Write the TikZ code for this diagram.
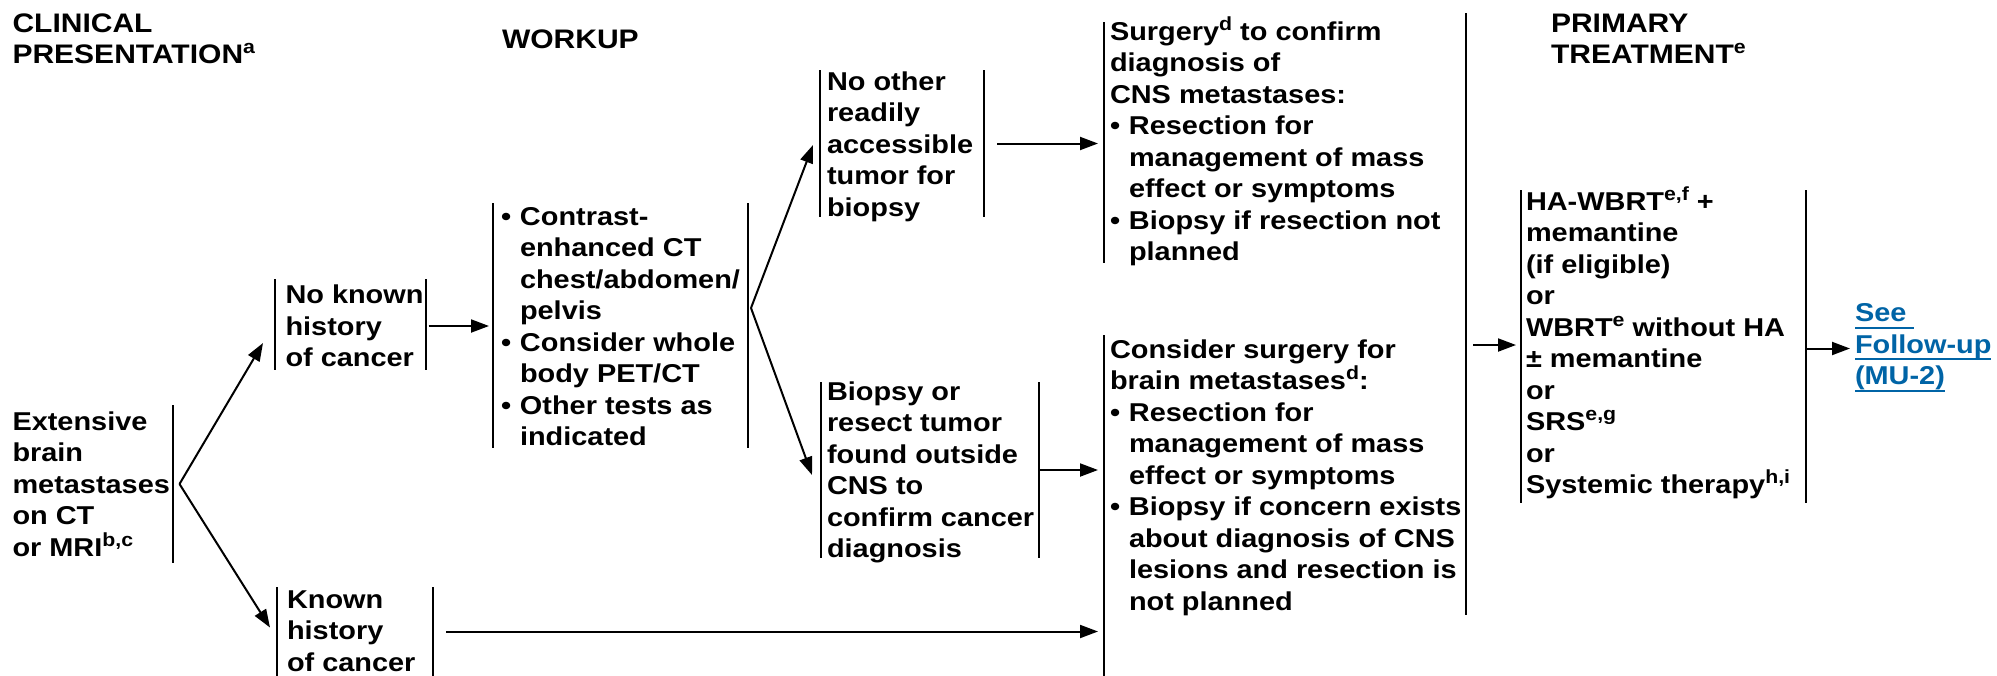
\documentclass[tikz,border=0pt]{standalone}
\usepackage{fontspec}
\setmainfont{Liberation Sans}[FakeStretch=1.12]
\usetikzlibrary{arrows.meta,calc,fit}

\definecolor{linkblue}{RGB}{0,100,166}
\newcommand\bodyfont{\fontsize{12.9pt}{15.75pt}\selectfont\bfseries}
\newcommand\headfont{\fontsize{13.4pt}{15.75pt}\selectfont\bfseries}
% superscript note letters
\newcommand\sups[1]{\raisebox{5pt}{\fontsize{9.5pt}{9.5pt}\selectfont #1}}
% fixed first-line height, so a node's top sits 13.5pt above its first baseline
\newcommand\st{\rule{0pt}{13.5pt}}
\newcommand\bul{\makebox[9.5pt][l]{\textbullet}}
\newcommand\ind{\hspace*{9.5pt}}
\newcommand\ulink[1]{\setbox0=\hbox{#1}\rlap{\rule[-3.5pt]{\wd0}{1pt}}\box0}

\tikzset{
  zone/.style={inner sep=0pt, outer sep=0pt},
  txt/.style={anchor=north west, inner sep=0pt, outer sep=0pt, align=left, font=\bodyfont},
  head/.style={txt, font=\headfont},
  bar/.style={line width=1pt},
  arr/.style={line width=1pt, -{Triangle[length=9pt,width=6.5pt]}},
}

\begin{document}
\begin{tikzpicture}[x=0.5pt, y=-0.5pt]
\fill[white] (0,0) rectangle (1997,675);
\useasboundingbox (0,0) rectangle (1997,675);

% column headings
\node[head] (hcp) at (12.5,5)   {\st CLINICAL\\PRESENTATION\sups{a}};
\node[head] (hwk) at (502,21.5) {\st WORKUP};
\node[head] (hpt) at (1551,5)   {\st PRIMARY\\TREATMENT\sups{e}};

% extents of the bracketed boxes
\node[zone, fit={(173,405) (173,563)}]   (ext) {};
\node[zone, fit={(275,279) (426,370)}]   (nk)  {};
\node[zone, fit={(277,587) (433,676)}]   (kn)  {};
\node[zone, fit={(493,203) (748,448)}]   (wk)  {};
\node[zone, fit={(820,70) (984,217)}]    (no)  {};
\node[zone, fit={(821,382) (1039,558)}]  (bo)  {};
\node[zone, fit={(1104,22) (1104,263)}]  (sg)  {};
\node[zone, fit={(1104,335) (1104,676)}] (cs)  {};
\node[zone, fit={(1466,13) (1466,615)}]  (sep) {};
\node[zone, fit={(1521,190) (1806,503)}] (pt)  {};

% bracket bars
\draw[bar] (ext.north) -- (ext.south);
\draw[bar] (nk.north west) -- (nk.south west) (nk.north east) -- (nk.south east);
\draw[bar] (kn.north west) -- (kn.south west) (kn.north east) -- (kn.south east);
\draw[bar] (wk.north west) -- (wk.south west) (wk.north east) -- (wk.south east);
\draw[bar] (no.north west) -- (no.south west) (no.north east) -- (no.south east);
\draw[bar] (bo.north west) -- (bo.south west) (bo.north east) -- (bo.south east);
\draw[bar] (sg.north) -- (sg.south);
\draw[bar] (cs.north) -- (cs.south);
\draw[bar] (sep.north) -- (sep.south);
\draw[bar] (pt.north west) -- (pt.south west) (pt.north east) -- (pt.south east);

% box texts
\node[txt] (extT) at (12.5,403) {\st Extensive\\brain\\metastases\\on CT\\or MRI\sups{b,c}};
\node[txt] (nkT) at (285.5,276.5) {\st No known\\history\\of cancer};
\node[txt] (knT) at (287,581) {\st Known\\history\\of cancer};
\node[txt] (wkT) at (501,198) {\st\bul Contrast-\\\ind enhanced CT\\\ind chest/abdomen/\\\ind pelvis\\\bul Consider whole\\\ind body PET/CT\\\bul Other tests as\\\ind indicated};
\node[txt] (noT) at (827,63) {\st No other\\readily\\accessible\\tumor for\\biopsy};
\node[txt] (boT) at (827,373) {\st Biopsy or\\resect tumor\\found outside\\CNS to\\confirm cancer\\diagnosis};
\node[txt] (sgT) at (1110,13) {\st Surgery\sups{d} to confirm\\diagnosis of\\CNS metastases:\\\bul Resection for\\\ind management of mass\\\ind effect or symptoms\\\bul Biopsy if resection not\\\ind planned};
\node[txt] (csT) at (1110,331) {\st Consider surgery for\\brain metastases\sups{d}:\\\bul Resection for\\\ind management of mass\\\ind effect or symptoms\\\bul Biopsy if concern exists\\\ind about diagnosis of CNS\\\ind lesions and resection is\\\ind not planned};
\node[txt] (ptT) at (1526,183) {\st HA-WBRT\sups{e,f} +\\memantine\\(if eligible)\\or\\WBRT\sups{e} without HA\\± memantine\\or\\SRS\sups{e,g}\\or\\Systemic therapy\sups{h,i}};
\node[txt, text=linkblue] (fu) at (1855,294.5) {\st\ulink{See\ }\\\ulink{Follow-up}\\\ulink{(MU-2)}};

% connectors
\coordinate (ea) at ($(ext.east)+(5.5,0)$);
\draw[arr] (ea) -- ($(nk.south west)+(-12,-27)$);
\draw[arr] (ea) -- ($(kn.west)+(-7,-4)$);
\draw[arr] ($(nk.east)+(2.5,1.5)$) -- ($(wk.west |- nk.east)+(-4,1.5)$);
\coordinate (wa) at ($(wk.east)+(3,-17.5)$);
\draw[arr] (wa) -- ($(no.west)+(-7,1.5)$);
\draw[arr] (wa) -- ($(bo.west)+(-9,5)$);
\draw[arr] ($(no.east)+(13,0)$) -- ($(sg.west |- no.east)+(-5,0)$);
\draw[arr] (bo.east) -- ($(cs.west |- bo.east)+(-5,0)$);
\draw[arr] ($(kn.east)+(13,0)$) -- ($(cs.west |- kn.east)+(-5,0)$);
\draw[arr] ($(sep.east |- pt.west)+(6,-1.5)$) -- ($(pt.west)+(-5,-1.5)$);
\draw[arr] ($(pt.east)+(1,2)$) -- ($(fu.west |- pt.east)+(-5,2)$);
\end{tikzpicture}
\end{document}
